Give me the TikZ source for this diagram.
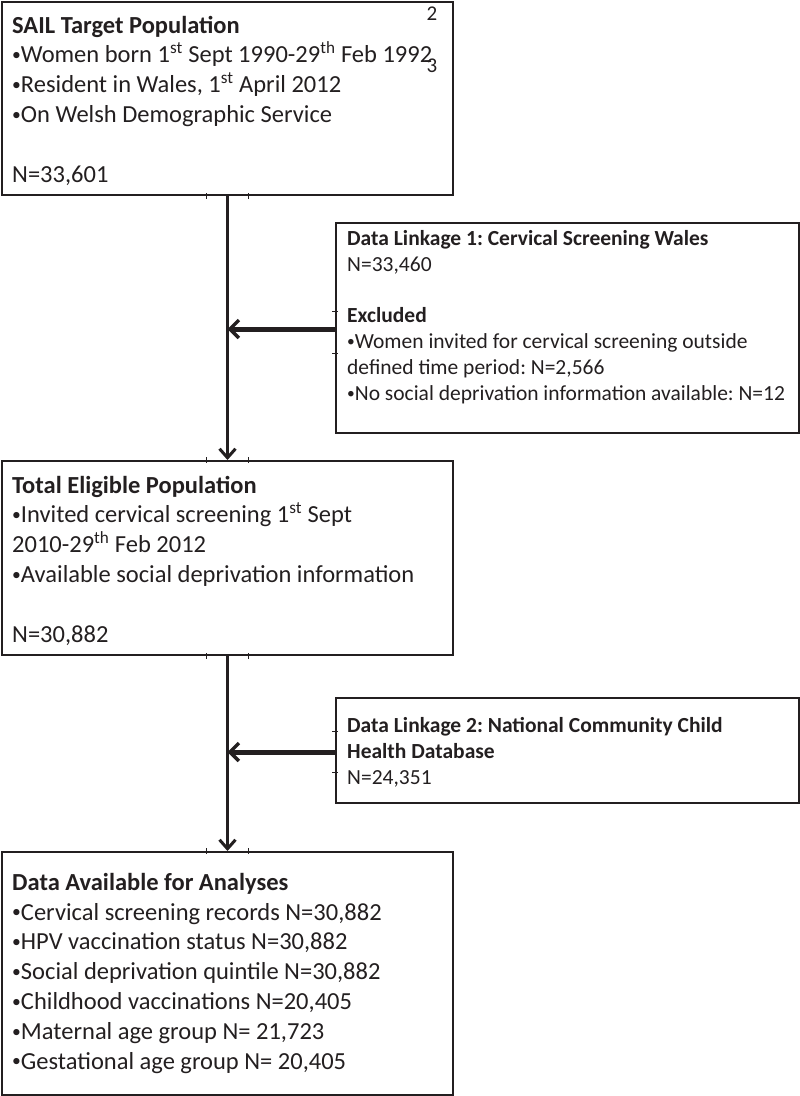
\documentclass[tikz,border=0pt]{standalone}
\usepackage{fontspec}
\setmainfont{Carlito}
\usetikzlibrary{arrows.meta,calc}
\definecolor{ink}{HTML}{231F20}
\newcommand\bul{\raisebox{0.09em}{\fontsize{0.72em}{1em}\selectfont •}}
\frenchspacing
\begin{document}
\begin{tikzpicture}[x=1pt,y=-1pt,
  box/.style={draw=ink,line width=2pt,inner sep=0pt,anchor=north west},
  big/.style={font=\fontsize{24.5}{29.8}\selectfont\frenchspacing,text=ink,align=left,inner sep=0pt,anchor=base west},
  small/.style={font=\fontsize{21.5}{25.7}\selectfont\frenchspacing,text=ink,align=left,inner sep=0pt,anchor=base west},
  pnum/.style={font=\fontsize{21}{25}\selectfont,text=ink,inner sep=0pt,anchor=base},
  vflow/.style={draw=ink,line width=3.5pt,-{Straight Barb[length=9pt,width=16pt,line width=3pt]}},
  hflow/.style={draw=ink,line width=5pt,-{Straight Barb[length=9pt,width=18pt,line width=3.5pt]}},
  tickmark/.style={draw=ink,line width=0.8pt}]
\useasboundingbox (0,0) rectangle (800,1096);
% boxes
\node[box,minimum width=451pt,minimum height=193pt] (b1) at (1,1) {};
\node[box,minimum width=451pt,minimum height=194pt] (b2) at (1,460) {};
\node[box,minimum width=463pt,minimum height=210pt] (b3) at (335,222) {};
\node[box,minimum width=463pt,minimum height=105pt] (b4) at (335,697) {};
\node[box,minimum width=451pt,minimum height=243pt] (b5) at (1,851) {};
% texts (anchored at the baseline of their last line)
\node[big] (t1) at (12,182) {\textbf{SAIL Target Population}\\
  \bul Women born 1\textsuperscript{st} Sept 1990-29\textsuperscript{th} Feb 1992\\
  \bul Resident in Wales, 1\textsuperscript{st} April 2012\\
  \bul On Welsh Demographic Service\\
  \strut\\
  N=33,601};
\node[pnum] (p2) at (432,20) {2};
\node[pnum] (p3) at (432,72) {3};
\node[big] (t2) at (12,642) {\textbf{Total Eligible Population}\\
  \bul Invited cervical screening 1\textsuperscript{st} Sept\\
  2010-29\textsuperscript{th} Feb 2012\\
  \bul Available social deprivation information\\
  \strut\\
  N=30,882};
\node[small] (t3) at (347,400) {\textbf{Data Linkage 1: Cervical Screening Wales}\\
  N=33,460\\
  \strut\\
  \textbf{Excluded}\\
  \bul Women invited for cervical screening outside\\
  defined time period: N=2,566\\
  \bul No social deprivation information available: N=12};
\node[small] (t4) at (347,784) {\textbf{Data Linkage 2: National Community Child}\\
  \textbf{Health Database}\\
  N=24,351};
\node[big] (t5) at (12,1069) {\textbf{Data Available for Analyses}\\
  \bul Cervical screening records N=30,882\\
  \bul HPV vaccination status N=30,882\\
  \bul Social deprivation quintile N=30,882\\
  \bul Childhood vaccinations N=20,405\\
  \bul Maternal age group N= 21,723\\
  \bul Gestational age group N= 20,405};
% connectors
\draw[vflow] (b1.south) -- (b2.north);
\draw[vflow] (b2.south) -- (b5.north);
\coordinate (j1) at ($(b3.west)+(0,1)$);
\coordinate (j2) at ($(b4.west)+(0,1.5)$);
\draw[hflow] (j1) -- (j1 -| b1.south);
\draw[hflow] (j2) -- (j2 -| b1.south);
% small glue ticks
\foreach \n/\a in {b1/south,b2/north,b2/south,b5/north}{
  \draw[tickmark] ($(\n.\a)+(-21,-3)$) -- ++(0,6);
  \draw[tickmark] ($(\n.\a)+(21,-3)$) -- ++(0,6);
}
\draw[tickmark] ($(b3.west)+(-3,-17)$) -- ++(6,0);
\draw[tickmark] ($(b3.west)+(-3,25)$) -- ++(6,0);
\draw[tickmark] ($(b4.west)+(-3,-19)$) -- ++(6,0);
\draw[tickmark] ($(b4.west)+(-3,22)$) -- ++(6,0);
\end{tikzpicture}
\end{document}
